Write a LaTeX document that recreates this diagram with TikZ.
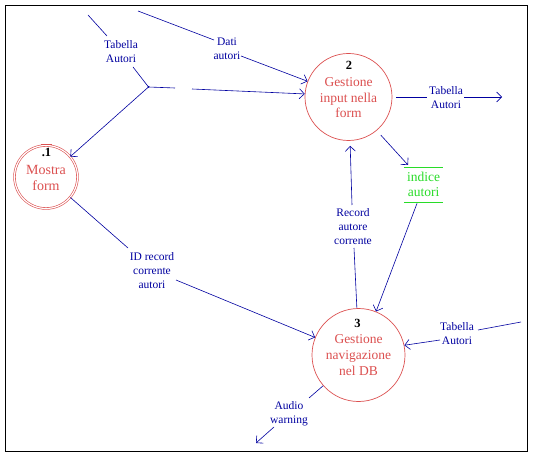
\documentclass[tikz,border=0pt]{standalone}
\usepackage{fontspec}
\setmainfont{Liberation Serif}
\usetikzlibrary{arrows.meta}
\definecolor{flow}{RGB}{0,0,160}
\definecolor{proc}{RGB}{220,80,80}
\definecolor{storec}{RGB}{40,220,40}
\begin{document}
\begin{tikzpicture}[x=1pt,y=-1pt,
  flowline/.style={draw=flow, line width=0.6pt},
  arr/.style={flowline, -{Straight Barb[length=5pt,width=10pt]}},
  lbl/.style={text=flow, align=center, font=\fontsize{11.5}{14}\selectfont, inner sep=0pt},
  procc/.style={circle, draw=proc, line width=0.7pt, inner sep=0pt},
  ptext/.style={text=proc, align=center, font=\fontsize{13.5}{15.5}\selectfont, inner sep=0pt},
  pnum/.style={font=\bfseries\fontsize{12.5}{12.5}\selectfont, inner sep=0pt},
]
\useasboundingbox (0,0) rectangle (533,457);
\fill[white] (0,0) rectangle (533,457);
\draw[line width=1.3pt] (5.5,5.5) rectangle (527.5,451.5);

% processes
\node[procc, double=white, double distance=1.2pt, line width=0.6pt, minimum size=63pt] (p1) at (46,177) {};
\draw[proc, line width=1.6pt] ([xshift=-5.5pt,yshift=0.6pt]p1.north) -- ([xshift=5.5pt,yshift=0.6pt]p1.north);
\node[pnum] (n1) at (46.5,152) {.1};
\node[ptext, font=\fontsize{14}{16}\selectfont] (t1) at (46,177.5) {Mostra\\form};

\node[procc, minimum size=87pt] (p2) at (348.5,97) {};
\node[pnum] (n2) at (349,65) {2};
\node[ptext] (t2) at (348.5,98) {Gestione\\input nella\\form};

\node[procc, minimum size=93pt] (p3) at (358.5,355) {};
\node[pnum] (n3) at (357.5,323) {3};
\node[ptext, font=\fontsize{13.5}{16}\selectfont] (t3) at (358.5,355) {Gestione\\navigazione\\nel DB};

% data store
\node[text=storec, align=center, font=\fontsize{13.5}{15}\selectfont, minimum width=39pt, minimum height=35pt, inner sep=0pt] (st) at (423.5,184.7) {indice\\autori};
\draw[storec, line width=0.8pt] (st.north west) -- (st.north east) (st.south west) -- (st.south east);

% Tabella Autori (top left) with junction
\coordinate (a1s) at (88,15);
\coordinate (a1e) at (107,36);
\node[lbl] (l1) at (121,52) {Tabella\\Autori};
\coordinate (a1r) at (133,67);
\coordinate (J) at (148.5,87);
\coordinate (g1) at (175,88);
\coordinate (g2) at (192,89);
\draw[flowline] (a1s) -- (a1e);
\draw[flowline] (a1r) -- (J);
\fill[flow] (J) circle (1pt);
\draw[arr] (J) -- (p1.40);
\draw[flowline] (J) -- (g1);
\draw[arr] (g2) -- (p2.176);

% Dati autori
\coordinate (d1) at (138,11);
\coordinate (d2) at (214,40);
\node[lbl] (l2) at (227,49) {Dati\\autori};
\coordinate (d3) at (241,56);
\draw[flowline] (d1) -- (d2);
\draw[arr] (d3) -- (p2.159);

% Tabella Autori out of 2
\coordinate (o1) at (427,97);
\node[lbl] (l3) at (446,97.5) {Tabella\\Autori};
\coordinate (o2) at (464,97);
\coordinate (o3) at (502,97);
\draw[flowline, shorten <=4pt] (p2.0) -- (o1);
\draw[arr] (o2) -- (o3);

% 2 -> store -> 3
\draw[arr, shorten <=6pt] (p2.-50) -- ([xshift=-15.5pt,yshift=2pt]st.north);
\draw[arr] ([xshift=-6.5pt,yshift=-1pt]st.south) -- (p3.68);

% Record autore corrente 3 -> 2
\coordinate (r1) at (354,248);
\node[lbl] (l4) at (353,226.5) {Record\\autore\\corrente};
\coordinate (r2) at (352,205);
\draw[flowline] (p3.92) -- (r1);
\draw[arr, shorten >=5pt] (r2) -- (p2.-88);

% ID record corrente autori 1 -> 3
\coordinate (i1) at (128,248);
\node[lbl] (l5) at (152,271) {ID record\\corrente\\autori};
\coordinate (i2) at (176,280);
\draw[flowline] (p1.-40) -- (i1);
\draw[arr] (i2) -- (p3.158);

% Tabella Autori into 3
\coordinate (e1) at (521,322);
\coordinate (e2) at (478,330);
\node[lbl] (l6) at (457,334) {Tabella\\Autori};
\coordinate (e3) at (440,340);
\draw[flowline] (e1) -- (e2);
\draw[arr] (e3) -- (p3.12);

% Audio warning
\coordinate (w1) at (309,398);
\node[lbl] (l7) at (289,414) {Audio\\warning};
\coordinate (w2) at (274,427);
\coordinate (w3) at (256,443);
\draw[flowline] (p3.-139) -- (w1);
\draw[arr] (w2) -- (w3);
\end{tikzpicture}
\end{document}
